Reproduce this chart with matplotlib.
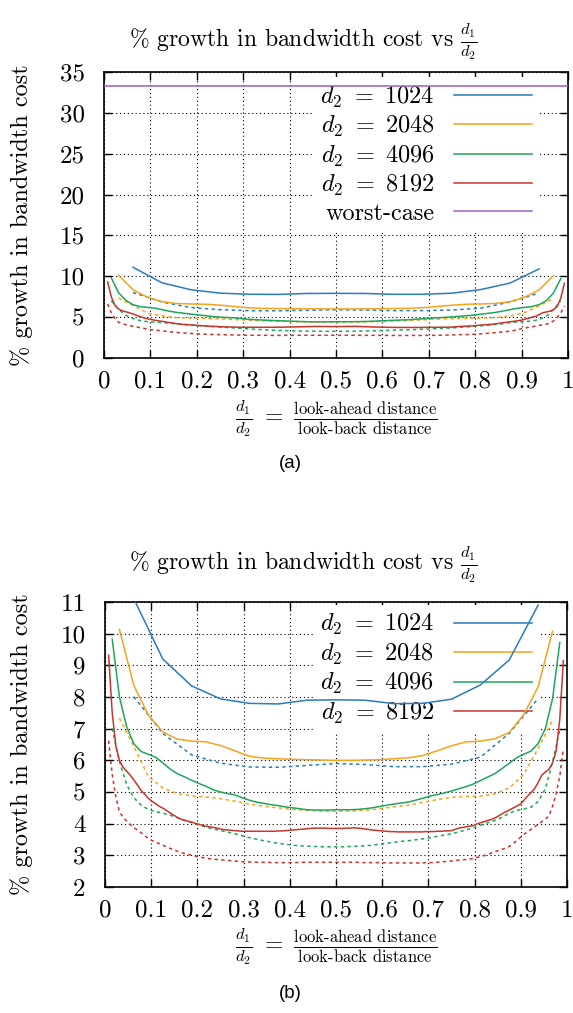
import numpy as np
import matplotlib
matplotlib.use("Agg")
import matplotlib.pyplot as plt
from matplotlib.ticker import MultipleLocator, FormatStrFormatter

plt.rcParams['mathtext.fontset'] = 'cm'
plt.rcParams['font.family'] = ['cmr10', 'DejaVu Serif']
plt.rcParams['axes.formatter.use_mathtext'] = True

# ==========================
# DATA (d1 goes in steps of 64 up to d2 - 64)
# ==========================
d2_values = [1024, 2048, 4096, 8192]
d1_step = 64
worst_case = 100.0 / 3.0

# solid = measured growth, dashed = second estimate
growth_1024 = [11.1, 9.20, 8.35, 7.94, 7.80, 7.78, 7.90, 7.91, 7.90, 7.79, 7.80, 7.93,
               8.38, 9.17, 10.9]
growth_1024_dash = [8.01, 6.85, 6.17, 5.91, 5.79, 5.78, 5.84, 5.90, 5.87, 5.80, 5.80, 5.88,
                    6.10, 6.85, 7.95]

growth_2048 = [10.13, 8.36, 7.43, 6.90, 6.67, 6.61, 6.58, 6.47, 6.30, 6.13,
               6.07, 6.05, 6.03, 6.02, 6.01, 6.00, 6.00, 6.01, 6.02, 6.05,
               6.08, 6.15, 6.30, 6.46, 6.58, 6.61, 6.68, 6.88, 7.44, 8.32,
               10.08]
growth_2048_dash = [7.33, 6.44, 5.49, 5.13, 4.95, 4.88, 4.84, 4.79, 4.71, 4.62,
                    4.55, 4.50, 4.45, 4.42, 4.40, 4.39, 4.40, 4.42, 4.47, 4.53,
                    4.58, 4.67, 4.76, 4.83, 4.86, 4.87, 4.94, 5.13, 5.55, 6.38,
                    7.27]

growth_4096 = [9.82, 8.00, 7.06, 6.52, 6.28, 6.19, 6.10, 5.92, 5.73, 5.58,
               5.48, 5.37, 5.27, 5.18, 5.07, 5.00, 4.95, 4.91, 4.82, 4.74,
               4.68, 4.64, 4.60, 4.57, 4.53, 4.50, 4.47, 4.44, 4.43, 4.43,
               4.43, 4.44, 4.44, 4.44, 4.45, 4.47, 4.50, 4.54, 4.58, 4.62,
               4.65, 4.68, 4.74, 4.80, 4.87, 4.92, 4.97, 5.03, 5.10, 5.17,
               5.25, 5.36, 5.47, 5.58, 5.74, 5.91, 6.08, 6.19, 6.29, 6.53,
               7.00, 7.95, 9.72]
growth_4096_dash = [7.01, 5.96, 5.23, 4.82, 4.58, 4.45, 4.38, 4.33, 4.27, 4.19,
                    4.10, 4.03, 3.96, 3.89, 3.83, 3.78, 3.73, 3.68, 3.62, 3.56,
                    3.51, 3.46, 3.42, 3.38, 3.35, 3.32, 3.30, 3.29, 3.28, 3.27,
                    3.27, 3.27, 3.27, 3.28, 3.29, 3.30, 3.32, 3.35, 3.38, 3.41,
                    3.44, 3.46, 3.49, 3.52, 3.55, 3.60, 3.64, 3.68, 3.74, 3.80,
                    3.87, 3.95, 4.03, 4.10, 4.20, 4.33, 4.42, 4.46, 4.52, 4.70,
                    5.10, 5.95, 6.96]

growth_8192 = [9.32, 7.50, 6.45, 6.00, 5.78, 5.66, 5.53, 5.38, 5.22, 5.05,
               4.93, 4.80, 4.71, 4.63, 4.55, 4.49, 4.42, 4.34, 4.27, 4.20,
               4.14, 4.11, 4.08, 4.05, 4.01, 3.98, 3.95, 3.92, 3.90, 3.88,
               3.86, 3.83, 3.81, 3.80, 3.79, 3.78, 3.77, 3.76, 3.76, 3.76,
               3.76, 3.76, 3.76, 3.76, 3.76, 3.76, 3.76, 3.77, 3.77, 3.78,
               3.79, 3.80, 3.81, 3.82, 3.83, 3.84, 3.85, 3.86, 3.86, 3.86,
               3.86, 3.85, 3.85, 3.85, 3.85, 3.85, 3.86, 3.86, 3.87, 3.86,
               3.85, 3.83, 3.82, 3.80, 3.79, 3.78, 3.77, 3.76, 3.75, 3.75,
               3.74, 3.74, 3.74, 3.74, 3.74, 3.74, 3.74, 3.74, 3.75, 3.75,
               3.75, 3.76, 3.76, 3.77, 3.77, 3.78, 3.82, 3.86, 3.88, 3.90,
               3.92, 3.94, 3.99, 4.03, 4.06, 4.10, 4.13, 4.18, 4.24, 4.31,
               4.37, 4.43, 4.49, 4.55, 4.61, 4.73, 4.86, 4.98, 5.10, 5.30,
               5.53, 5.63, 5.72, 5.92, 6.30, 7.30, 9.15]
growth_8192_dash = [6.62, 5.55, 4.85, 4.38, 4.20, 4.08, 3.97, 3.88, 3.80, 3.71,
                    3.62, 3.53, 3.47, 3.42, 3.37, 3.32, 3.27, 3.22, 3.17, 3.13,
                    3.09, 3.06, 3.03, 3.00, 2.97, 2.95, 2.93, 2.91, 2.89, 2.88,
                    2.87, 2.86, 2.85, 2.84, 2.83, 2.82, 2.81, 2.80, 2.79, 2.79,
                    2.78, 2.78, 2.78, 2.78, 2.78, 2.77, 2.77, 2.77, 2.77, 2.77,
                    2.77, 2.77, 2.77, 2.78, 2.78, 2.78, 2.78, 2.78, 2.78, 2.78,
                    2.78, 2.78, 2.78, 2.78, 2.78, 2.78, 2.78, 2.78, 2.78, 2.78,
                    2.77, 2.77, 2.77, 2.77, 2.77, 2.77, 2.77, 2.76, 2.76, 2.76,
                    2.76, 2.76, 2.76, 2.76, 2.76, 2.76, 2.76, 2.76, 2.77, 2.77,
                    2.77, 2.78, 2.79, 2.80, 2.81, 2.82, 2.83, 2.85, 2.86, 2.87,
                    2.88, 2.90, 2.93, 2.96, 2.99, 3.03, 3.07, 3.11, 3.15, 3.19,
                    3.23, 3.28, 3.36, 3.46, 3.56, 3.66, 3.74, 3.82, 3.90, 3.98,
                    4.06, 4.15, 4.24, 4.55, 4.95, 5.50, 6.38]

solid_series = [growth_1024, growth_2048, growth_4096, growth_8192]
dashed_series = [growth_1024_dash, growth_2048_dash, growth_4096_dash, growth_8192_dash]

colors = ['#2a7bbf', '#f5a31a', '#1ea65a', '#c8352c']
worst_color = '#9b5fc0'

W, H = 573, 1013


def px_x(p):
    return p / W


def px_y(p):
    return 1 - p / H


def draw_panel(ax, ylim, ystep, with_worst, leg_anchor):
    for d2, solid, dashed, c in zip(d2_values, solid_series, dashed_series, colors):
        x = np.arange(d1_step, d2, d1_step) / d2
        ax.plot(x, solid, color=c, lw=1.1, label=r'$d_2\ =\ %d$' % d2, zorder=3)
        ax.plot(x, dashed, color=c, lw=1.1, ls=(0, (2.2, 2.2)), zorder=3)
    if with_worst:
        ax.axhline(worst_case, color=worst_color, lw=1.1, label='worst-case', zorder=3)

    ax.set_xlim(0, 1)
    ax.set_ylim(*ylim)
    ax.xaxis.set_major_locator(MultipleLocator(0.1))
    ax.yaxis.set_major_locator(MultipleLocator(ystep))
    ax.xaxis.set_major_formatter(FormatStrFormatter('%g'))
    ax.yaxis.set_major_formatter(FormatStrFormatter('%g'))
    ax.tick_params(direction='in', top=True, right=True, length=6, width=1.0,
                   labelsize=18)
    ax.tick_params(axis='x', pad=9)
    ax.tick_params(axis='y', pad=14)
    ax.set_axisbelow(True)
    ax.grid(True, color='black', lw=0.8, ls=(0, (1, 2.5)))
    for s in ax.spines.values():
        s.set_linewidth(1.2)

    leg = ax.legend(loc='upper right', bbox_to_anchor=leg_anchor, markerfirst=False,
                    frameon=True, facecolor='white', edgecolor='none', framealpha=1,
                    fontsize=17.5, handlelength=3.2, handletextpad=0.8,
                    labelspacing=0.18, borderpad=0.3, borderaxespad=0.0)
    leg.set_zorder(1.5)


fig = plt.figure(figsize=(W / 100, H / 100), dpi=100)

ax_a = fig.add_axes([px_x(104), px_y(358), (568 - 104) / W, (358 - 72) / H])
draw_panel(ax_a, (0, 35), 5, True, (0.9375, 0.982))
ax_b = fig.add_axes([px_x(105), px_y(887), (567 - 105) / W, (887 - 602) / H])
draw_panel(ax_b, (2, 11), 1, False, (0.939, 0.99))

title = r'% growth in bandwidth cost vs $\frac{d_1}{d_2}$'
xlab = r'$\frac{d_1}{d_2}\ =\ \frac{\text{look-ahead distance}}{\text{look-back distance}}$'
ylab = '% growth in bandwidth cost'

for ax, t_y, x_y, cap_y, cap in [(ax_a, 47, 419, 463, '(a)'), (ax_b, 570, 947, 993, '(b)')]:
    pos = ax.get_position()
    fig.text(px_x(303), px_y(t_y), title, fontsize=17, ha='center', va='baseline')
    fig.text(px_x(336), px_y(x_y), xlab, fontsize=17, ha='center', va='center')
    fig.text(px_x(22), (pos.y0 + pos.y1) / 2, ylab, fontsize=17.5, rotation=90,
             ha='center', va='center')
    fig.text(px_x(290), px_y(cap_y), cap, fontsize=13.5, family='Liberation Sans',
             ha='center', va='center')

fig.savefig('out.png', dpi=100)
